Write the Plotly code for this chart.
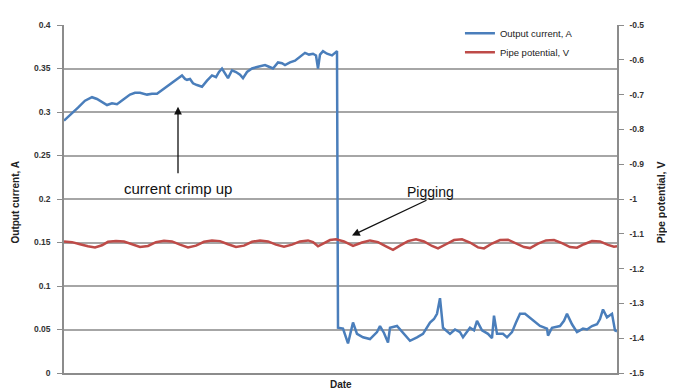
import plotly.graph_objects as go

# ---- data (x = day index along the undated time axis) ----
current_days = [0, 6, 14, 21, 28, 33, 38, 43, 48, 53, 59, 66, 71, 76, 83, 88, 93, 99, 106, 112,
                118, 121, 123, 126, 129, 133, 138, 143, 148, 152, 155, 158, 161, 164, 168, 172,
                176, 179, 183, 188, 194, 201, 205, 209, 214, 218, 221, 226, 231, 236, 241, 245,
                249, 252, 254, 256, 259, 263, 268, 271, 273,
                274, 279, 284, 289, 293, 299, 306, 313, 316, 320, 324, 326, 333, 338, 342, 346,
                353, 359, 366, 370, 373, 376, 379, 386, 391, 396, 399, 406, 410, 413, 418, 424,
                428, 430, 433, 439, 443, 448, 452, 456, 461, 465, 469, 476, 483, 484, 488, 496,
                500, 503, 508, 513, 519, 523, 528, 533, 536, 539, 543, 548, 551, 553]
current_vals = [0.290, 0.296, 0.305, 0.313, 0.317, 0.315, 0.311, 0.308, 0.310, 0.309, 0.314,
                0.320, 0.322, 0.322, 0.320, 0.321, 0.321, 0.326, 0.332, 0.337, 0.342, 0.338,
                0.337, 0.338, 0.333, 0.331, 0.329, 0.336, 0.342, 0.340, 0.346, 0.350, 0.345,
                0.339, 0.348, 0.346, 0.343, 0.339, 0.346, 0.350, 0.352, 0.354, 0.352, 0.350,
                0.357, 0.356, 0.354, 0.357, 0.359, 0.363, 0.368, 0.366, 0.367, 0.365, 0.350,
                0.366, 0.370, 0.367, 0.365, 0.368, 0.370,
                0.052, 0.051, 0.034, 0.058, 0.045, 0.041, 0.039, 0.047, 0.054, 0.046, 0.035,
                0.052, 0.054, 0.047, 0.042, 0.037, 0.041, 0.045, 0.058, 0.062, 0.068, 0.086,
                0.052, 0.045, 0.050, 0.047, 0.041, 0.052, 0.049, 0.060, 0.049, 0.045, 0.040,
                0.066, 0.045, 0.045, 0.041, 0.047, 0.058, 0.068, 0.068, 0.064, 0.060, 0.054,
                0.051, 0.043, 0.052, 0.054, 0.060, 0.068, 0.056, 0.047, 0.051, 0.050, 0.054,
                0.056, 0.062, 0.073, 0.064, 0.068, 0.049, 0.048]

potential_days = [0, 8, 16, 24, 31, 38, 44, 52, 60, 68, 76, 84, 92, 100, 108, 116, 124, 132,
                  140, 148, 156, 164, 172, 180, 188, 196, 204, 212, 220, 228, 236, 244, 249,
                  254, 260, 266, 272, 280, 289, 298, 306, 314, 322, 329, 336, 344, 352, 360,
                  368, 374, 382, 390, 398, 406, 414, 420, 428, 436, 444, 452, 460, 466, 474,
                  482, 490, 498, 506, 513, 520, 528, 536, 544, 550, 553]
potential_vals = [-1.122, -1.124, -1.130, -1.136, -1.139, -1.133, -1.123, -1.121, -1.122,
                  -1.130, -1.138, -1.135, -1.124, -1.120, -1.122, -1.131, -1.139, -1.134,
                  -1.123, -1.119, -1.121, -1.130, -1.138, -1.134, -1.123, -1.119, -1.122,
                  -1.131, -1.137, -1.131, -1.122, -1.119, -1.124, -1.136, -1.128, -1.118,
                  -1.116, -1.122, -1.135, -1.125, -1.119, -1.124, -1.136, -1.146, -1.134,
                  -1.121, -1.116, -1.122, -1.135, -1.142, -1.130, -1.118, -1.116, -1.125,
                  -1.139, -1.142, -1.128, -1.118, -1.117, -1.127, -1.138, -1.141, -1.128,
                  -1.119, -1.118, -1.127, -1.138, -1.140, -1.130, -1.121, -1.122, -1.132,
                  -1.137, -1.136]

left_ticks = [0, 0.05, 0.1, 0.15, 0.2, 0.25, 0.3, 0.35, 0.4]
left_tick_text = ["0", "0.05", "0.1", "0.15", "0.2", "0.25", "0.3", "0.35", "0.4"]
right_ticks = [-1.5, -1.4, -1.3, -1.2, -1.1, -1.0, -0.9, -0.8, -0.7, -0.6, -0.5]
right_tick_text = ["-1.5", "-1.4", "-1.3", "-1.2", "-1.1", "-1", "-0.9", "-0.8", "-0.7", "-0.6", "-0.5"]

BLUE = "#4A7EBB"
RED = "#BE4B48"
GRID = "#A6A6A6"
AXIS = "#8C8C8C"
FONT = "Liberation Sans"

fig = go.Figure()
fig.add_trace(go.Scatter(x=current_days, y=current_vals, mode="lines", name="Output current, A",
                         line=dict(color=BLUE, width=2.5), yaxis="y"))
fig.add_trace(go.Scatter(x=potential_days, y=potential_vals, mode="lines", name="Pipe potential, V",
                         line=dict(color=RED, width=2.5), yaxis="y2"))

# page body has an 8px default margin, so the figure is sized to fit inside the window
fig.update_layout(
    width=667, height=384,
    margin=dict(l=56, r=58, t=11, b=19),
    paper_bgcolor="white", plot_bgcolor="white",
    font=dict(family=FONT, size=9, color="#222222"),
    showlegend=True,
    legend=dict(x=0.716, y=1.018, xanchor="left", yanchor="top",
                bgcolor="rgba(255,255,255,0)", font=dict(size=9.5, color="#222222"),
                itemwidth=30, tracegroupgap=0),
    xaxis=dict(range=[0, 553], showticklabels=False, showgrid=False, zeroline=False,
               showline=True, linecolor=AXIS, linewidth=1.5, ticks="", automargin=False),
    yaxis=dict(range=[0, 0.4], tickvals=left_ticks, ticktext=left_tick_text,
               showgrid=True, gridcolor=GRID, gridwidth=1.5, zeroline=False,
               showline=True, linecolor=AXIS, linewidth=1.5, ticks="outside", ticklen=5,
               tickcolor=AXIS, ticklabelstandoff=5,
               tickfont=dict(size=8.5, family=FONT, weight="bold", color="#333333"),
               automargin=False),
    yaxis2=dict(range=[-1.5, -0.5], tickvals=right_ticks, ticktext=right_tick_text,
                overlaying="y", side="right", showgrid=False, zeroline=False,
                showline=True, linecolor=AXIS, linewidth=1.5, ticks="outside", ticklen=5,
                tickcolor=AXIS, ticklabelstandoff=4,
                tickfont=dict(size=8.5, family=FONT, weight="bold", color="#333333"),
                automargin=False),
)

# axis titles
fig.add_annotation(text="<b>Date</b>", xref="paper", yref="paper", x=0.5, y=-0.034,
                   showarrow=False, font=dict(size=10, family=FONT), yanchor="middle")
fig.add_annotation(text="<b>Output current, A</b>", xref="paper", yref="paper", x=-0.0886, y=0.49,
                   xanchor="center", yanchor="middle",
                   textangle=-90, showarrow=False, font=dict(size=10, family=FONT))
fig.add_annotation(text="<b>Pipe potential, V</b>", xref="paper", yref="paper", x=1.081, y=0.49,
                   xanchor="center", yanchor="middle",
                   textangle=-90, showarrow=False, font=dict(size=10.5, family=FONT))

# callouts
fig.add_annotation(text="current crimp up", xref="x", yref="y", x=114, y=0.2124,
                   showarrow=False, font=dict(size=15, family=FONT, color="#111111"))
fig.add_annotation(text="", xref="x", yref="y", x=114, y=0.306, ax=0, ay=68,
                   showarrow=True, arrowhead=2, arrowsize=1.2, arrowwidth=1.3, arrowcolor="#111111")
fig.add_annotation(text="Pigging", xref="x", yref="y", x=366, y=0.208,
                   showarrow=False, font=dict(size=14, family=FONT, color="#111111"))
fig.add_annotation(text="", xref="x", yref="y", x=288, y=0.158, ax=76, ay=-36,
                   showarrow=True, arrowhead=2, arrowsize=1.2, arrowwidth=1.3, arrowcolor="#111111")

fig.write_html("out.html")
